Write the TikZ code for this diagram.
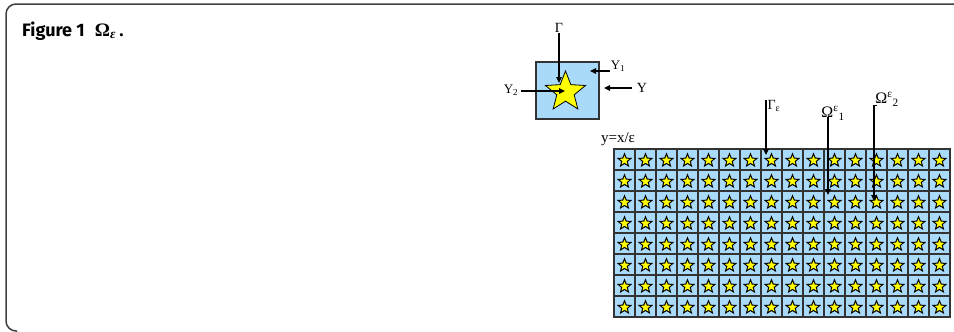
\documentclass[tikz,border=0pt]{standalone}
\usepackage{fontspec}
\setmainfont{Liberation Serif}
\setsansfont{Fira Sans}
\usetikzlibrary{shapes.geometric,arrows.meta}
\definecolor{cellblue}{RGB}{170,218,250}
\definecolor{staryellow}{RGB}{255,255,0}
\begin{document}
\begin{tikzpicture}[x=1pt,y=-1pt,
        cellbox/.style={draw=black!80, line width=1.1pt, fill=cellblue},
        smallstar/.style={star, star points=5, star point ratio=2.3, minimum size=13.5pt,
            inner sep=0pt, fill=staryellow, draw=black, line width=1pt},
        bigstar/.style={smallstar, minimum size=42pt, line width=0.8pt},
        lbl/.style={inner sep=0pt, font=\fontsize{14}{16}\selectfont},
        sublbl/.style={inner sep=0pt, font=\fontsize{13}{15}\selectfont},
        pointer/.style={-{Triangle[length=6pt,width=5.5pt]}, line width=1.1pt}]
        \useasboundingbox (0,0) rectangle (954,332);

        % Frame and caption
        \draw[black!75, line width=1.5pt, rounded corners=10pt] (954,4) -- (6,4) -- (6,331) -- (17,331);
        \node[anchor=base west, inner sep=0pt, font=\bfseries\fontsize{18}{21}\selectfont] (cap) at (22,36)
            {\sffamily Figure 1\hspace{10pt}\rmfamily\fontsize{19}{21}\selectfont Ω\textsubscript{\itshape ε}\,.};

        % Unit cell Y
        \node[cellbox, line width=1.3pt, minimum width=63pt, minimum height=57pt, inner sep=0pt] (cell) at (567.5,90.5) {};
        \node[bigstar] (core) at (565.5,92) {};
        \node[lbl] (gam) at (559,28) {Γ};
        \node[sublbl] (yone) at (618,66) {Y\textsubscript{1}};
        \node[sublbl] (ytwo) at (511,90) {Y\textsubscript{2}};
        \node[lbl] (yy) at (642,88) {Y};
        \coordinate (gamtip) at (559,83);
        \coordinate (yonetip) at (590,71);
        \coordinate (ytwotip) at (565,91);
        \coordinate (yytip) at (604,88);
        \draw[pointer] (gam.south) -- (gamtip);
        \draw[pointer] ([xshift=-1pt]yone.west |- yonetip) -- (yonetip);
        \draw[pointer] ([xshift=3pt]ytwo.east |- ytwotip) -- (ytwotip);
        \draw[pointer] ([xshift=-5pt]yy.west) -- (yytip);

        % Periodic domain
        \node[lbl, font=\fontsize{15}{17}\selectfont] (scale) at (618,139) {y=x/ε};
        \foreach \c in {0,...,15} {
            \foreach \r in {0,...,7} {
                \path[cellbox] ({614+\c*21},{149+\r*21}) rectangle ++(21,21);
                \node[smallstar] at ({624.5+\c*21},{160.5+\r*21}) {};
            }
        }

        % Labels in the domain
        \node[lbl] (geps) at (774,106) {Γ\textsubscript{ε}};
        \node[lbl, font=\fontsize{16}{18}\selectfont] (omone) at (833,113) {Ω\textsuperscript{ε}\textsubscript{1}};
        \node[lbl, font=\fontsize{16}{18}\selectfont] (omtwo) at (887,99) {Ω\textsuperscript{ε}\textsubscript{2}};
        \coordinate (gepstip) at (766,155);
        \coordinate (omonetip) at (828,195);
        \coordinate (omtwotip) at (874,201);
        \draw[pointer] (geps.north -| gepstip) -- (gepstip);
        \draw[pointer] ([yshift=3pt]omone.south -| omonetip) -- (omonetip);
        \draw[pointer] ([xshift=3pt,yshift=1pt]omtwo.south -| omtwotip) -- ([yshift=1pt]omtwo.south -| omtwotip) -- (omtwotip);
\end{tikzpicture}
\end{document}
